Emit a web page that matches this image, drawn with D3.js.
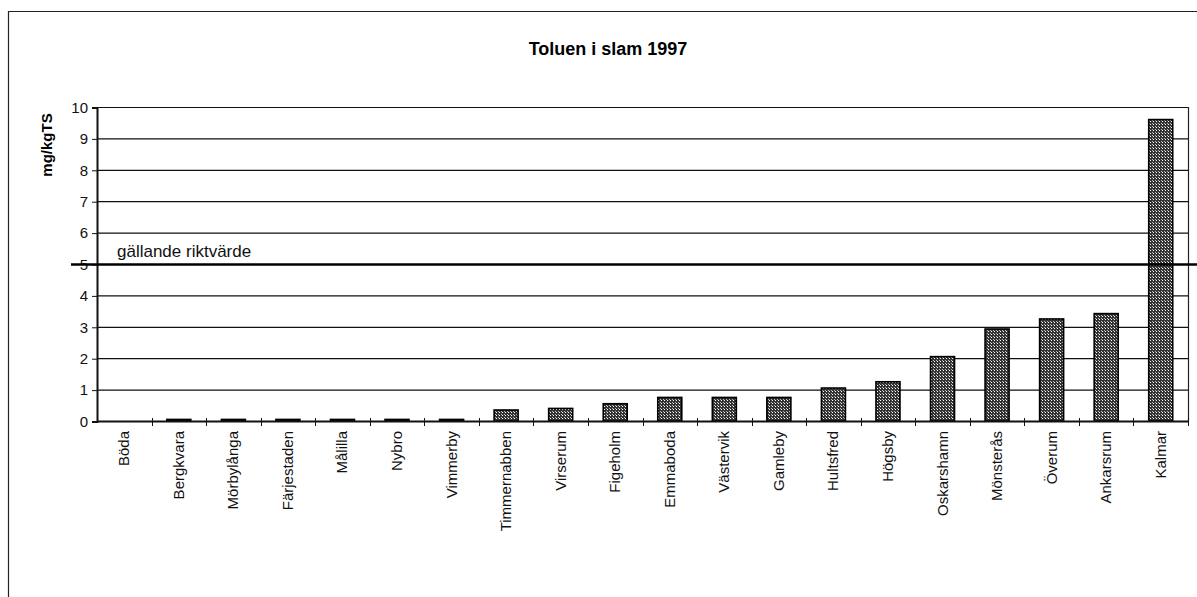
<!DOCTYPE html>
<html>
<head>
<meta charset="utf-8">
<script src="https://cdn.jsdelivr.net/npm/d3@7"></script>
<style>
  body { margin: 0; background: #fff; }
  svg { display: block; font-family: "Liberation Sans", Arial, sans-serif; }
</style>
</head>
<body>
<svg id="chart" width="1197" height="597"></svg>
<script>
// Toluene in sewage sludge, 1997 (mg/kg dry solids) per treatment plant
const plants = ["Böda", "Bergkvara", "Mörbylånga", "Färjestaden", "Målilla", "Nybro",
  "Vimmerby", "Timmernabben", "Virserum", "Figeholm", "Emmaboda", "Västervik",
  "Gamleby", "Hultsfred", "Högsby", "Oskarshamn", "Mönsterås", "Överum",
  "Ankarsrum", "Kalmar"];
const toluene = [0, 0.05, 0.05, 0.05, 0.05, 0.05, 0.05, 0.35, 0.4, 0.55, 0.75, 0.75,
  0.75, 1.05, 1.25, 2.05, 2.93, 3.25, 3.42, 9.6];
const yTicks = [0, 1, 2, 3, 4, 5, 6, 7, 8, 9, 10];
const guideValue = 5;
const guideLabel = "gällande riktvärde";
const title = "Toluen i slam 1997";
const yTitle = "mg/kgTS";

const svg = d3.select("#chart");

const plot = { left: 97, right: 1188, top: 107, bottom: 421 };

const x = d3.scaleBand().domain(plants).range([plot.left, plot.right])
  .paddingInner(0.56).paddingOuter(0.28);
const xEdge = d3.scaleLinear().domain([0, plants.length]).range([plot.left, plot.right]);
const y = d3.scaleLinear().domain([0, 10]).range([plot.bottom, plot.top]);

// dense checker fill used by the bars
const defs = svg.append("defs");
const pat = defs.append("pattern").attr("id", "hatch")
  .attr("width", 3).attr("height", 3).attr("patternUnits", "userSpaceOnUse");
pat.append("rect").attr("width", 3).attr("height", 3).attr("fill", "#333");
pat.append("rect").attr("x", 1).attr("y", 1).attr("width", 1).attr("height", 1).attr("fill", "#fff");
pat.append("rect").attr("x", 0).attr("y", 0).attr("width", 1).attr("height", 1).attr("fill", "#bbb");

// outer chart frame (runs past the right and bottom edges)
svg.append("path")
  .attr("d", "M8.5,620 V11.5 H1210")
  .attr("fill", "none").attr("stroke", "#222").attr("stroke-width", 1.2);

// title
svg.append("text").attr("x", 608).attr("y", 55)
  .attr("text-anchor", "middle").attr("font-weight", "bold").attr("font-size", 18)
  .text(title);

// y-axis title
svg.append("text")
  .attr("transform", `translate(52,${(113 + 177) / 2}) rotate(-90)`)
  .attr("text-anchor", "middle").attr("font-weight", "bold").attr("font-size", 15)
  .text(yTitle);

// horizontal gridlines
svg.append("g").selectAll("line").data(yTicks.filter(d => d > 0)).join("line")
  .attr("x1", plot.left).attr("x2", plot.right)
  .attr("y1", d => y(d) + 0.5).attr("y2", d => y(d) + 0.5)
  .attr("stroke", "#111").attr("stroke-width", 1.2);

// right frame of the plot area
svg.append("line")
  .attr("x1", plot.right + 0.5).attr("x2", plot.right + 0.5)
  .attr("y1", plot.top).attr("y2", plot.bottom)
  .attr("stroke", "#222").attr("stroke-width", 1.2);

// bars
svg.append("g").selectAll("rect").data(plants).join("rect")
  .attr("x", d => x(d))
  .attr("width", x.bandwidth())
  .attr("y", (d, i) => y(toluene[i]))
  .attr("height", (d, i) => plot.bottom - y(toluene[i]))
  .attr("fill", "url(#hatch)")
  .attr("stroke", "#000").attr("stroke-width", 1.6);

// y axis
const yAxis = d3.axisLeft(y).tickValues(yTicks).tickSize(5).tickPadding(4)
  .tickFormat(d3.format("d"));
const gy = svg.append("g").attr("transform", `translate(${plot.left},0.5)`).call(yAxis);
gy.select(".domain").attr("stroke", "#111").attr("stroke-width", 2);
gy.selectAll(".tick line").attr("stroke", "#111");
gy.selectAll(".tick text").attr("font-size", 15).attr("fill", "#111")
  .attr("font-family", "Liberation Sans, Arial, sans-serif");

// x axis line with category boundary ticks
svg.append("line")
  .attr("x1", plot.left).attr("x2", plot.right)
  .attr("y1", plot.bottom + 0.5).attr("y2", plot.bottom + 0.5)
  .attr("stroke", "#111").attr("stroke-width", 2);
svg.append("g").selectAll("line").data(d3.range(1, plants.length + 1)).join("line")
  .attr("x1", d => Math.round(xEdge(d)) + 0.5).attr("x2", d => Math.round(xEdge(d)) + 0.5)
  .attr("y1", plot.bottom - 3).attr("y2", plot.bottom + 5)
  .attr("stroke", "#111").attr("stroke-width", 1);

// category labels, rotated
svg.append("g").selectAll("text").data(plants).join("text")
  .attr("transform", d => `translate(${x(d) + x.bandwidth() / 2 + 5},${plot.bottom + 10}) rotate(-90)`)
  .attr("text-anchor", "end").attr("font-size", 15).attr("fill", "#111")
  .text(d => d);

// guideline at the current limit value
svg.append("line")
  .attr("x1", 71).attr("x2", 1197)
  .attr("y1", y(guideValue) + 0.5).attr("y2", y(guideValue) + 0.5)
  .attr("stroke", "#000").attr("stroke-width", 2.5);
svg.append("text").attr("x", 117).attr("y", y(guideValue) - 7)
  .attr("font-size", 17).attr("fill", "#111")
  .text(guideLabel);
</script>
</body>
</html>
